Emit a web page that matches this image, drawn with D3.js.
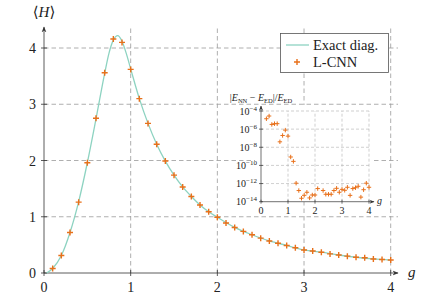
<!DOCTYPE html>
<html>
<head>
<meta charset="utf-8">
<script src="https://cdn.jsdelivr.net/npm/d3@7"></script>
<style>
  body { margin: 0; background: #fff; }
  svg { display: block; }
  text { font-family: "Liberation Serif", "DejaVu Serif", serif; fill: #222; }
</style>
</head>
<body>
<svg id="chart" width="435" height="296"></svg>
<script>
// ---- data ----
const gNN = [0.1, 0.2, 0.3, 0.4, 0.5, 0.6, 0.7, 0.8, 0.9, 1.0,
             1.1, 1.2, 1.3, 1.4, 1.5, 1.6, 1.7, 1.8, 1.9, 2.0,
             2.1, 2.2, 2.3, 2.4, 2.5, 2.6, 2.7, 2.8, 2.9, 3.0,
             3.1, 3.2, 3.3, 3.4, 3.5, 3.6, 3.7, 3.8, 3.9, 4.0];
const hNN = [0.08, 0.31, 0.72, 1.26, 1.96, 2.75, 3.56, 4.16, 4.10, 3.62,
             3.10, 2.66, 2.29, 1.99, 1.74, 1.53, 1.36, 1.21, 1.09, 0.99,
             0.89, 0.81, 0.74, 0.68, 0.62, 0.57, 0.53, 0.49, 0.45, 0.41,
             0.39, 0.37, 0.34, 0.32, 0.30, 0.28, 0.27, 0.25, 0.24, 0.23];

const gExact = [0.03, 0.1, 0.2, 0.3, 0.4, 0.5, 0.6, 0.7, 0.75, 0.8, 0.85, 0.9, 0.95, 1.0,
                1.1, 1.2, 1.3, 1.4, 1.5, 1.6, 1.7, 1.8, 1.9, 2.0,
                2.2, 2.4, 2.6, 2.8, 3.0, 3.2, 3.4, 3.6, 3.8, 4.0];
const hExact = [0.0, 0.08, 0.31, 0.72, 1.27, 1.96, 2.74, 3.55, 3.91, 4.14, 4.22, 4.12, 3.90, 3.63,
                3.10, 2.66, 2.29, 1.99, 1.74, 1.53, 1.36, 1.21, 1.09, 0.99,
                0.81, 0.68, 0.57, 0.49, 0.41, 0.37, 0.32, 0.28, 0.25, 0.23];

const gErr = [0.2, 0.3, 0.4, 0.5, 0.6, 0.7, 0.8, 0.9, 1.0, 1.1,
              1.2, 1.3, 1.4, 1.5, 1.6, 1.7, 1.8, 1.9, 2.0, 2.1,
              2.3, 2.4, 2.5, 2.6, 2.7, 2.8, 2.9, 3.0, 3.1, 3.2,
              3.3, 3.4, 3.5, 3.6, 3.7, 3.8, 3.9, 4.0];
const relErr = [1.4e-5, 2.8e-5, 3.3e-6, 4e-6, 4e-6, 4e-8, 2e-7, 7.8e-7, 1.7e-7, 8.5e-10,
                2.8e-10, 1.1e-12, 1.7e-13, 2.4e-14, 5.1e-14, 1.1e-13, 2.6e-14, 5.5e-14, 5.5e-14, 2.8e-13,
                1.7e-13, 6.6e-14, 6.6e-14, 6.6e-14, 1.7e-13, 3e-13, 1.1e-13, 2.3e-13, 1.8e-13, 3.9e-13,
                5e-14, 2.8e-13, 3.5e-13, 5e-13, 3.2e-14, 2.1e-13, 1.1e-12, 3.9e-13];

const xTicks = [0, 1, 2, 3, 4];
const yTicks = [0, 1, 2, 3, 4];
const insetXTicks = [0, 1, 2, 3, 4];
const insetYExps = [-14, -12, -10, -8, -6, -4];

const legendLabels = ['Exact diag.', 'L-CNN'];

// ---- style ----
const lineColor = '#8dd3c1';
const markColor = '#e8701a';
const gridColor = '#9a9a9a';
const axisColor = '#333';

const svg = d3.select('#chart');

// main scales
const x = d3.scaleLinear().domain([0, 4]).range([44, 390.7]);
const y = d3.scaleLinear().domain([0, 4]).range([273, 48]);
const xEnd = 398, yTop = 27;

// arrow marker
const defs = svg.append('defs');
defs.append('marker')
    .attr('id', 'arrow')
    .attr('viewBox', '0 0 10 10')
    .attr('refX', 9).attr('refY', 5)
    .attr('markerWidth', 6).attr('markerHeight', 6)
    .attr('markerUnits', 'userSpaceOnUse')
    .attr('orient', 'auto')
    .append('path')
    .attr('d', 'M0,1 L10,5 L0,9 L3,5 Z')
    .attr('fill', axisColor);
defs.append('marker')
    .attr('id', 'arrowSmall')
    .attr('viewBox', '0 0 10 10')
    .attr('refX', 9).attr('refY', 5)
    .attr('markerWidth', 5).attr('markerHeight', 5)
    .attr('markerUnits', 'userSpaceOnUse')
    .attr('orient', 'auto')
    .append('path')
    .attr('d', 'M0,1 L10,5 L0,9 L3,5 Z')
    .attr('fill', axisColor);

// grid
const grid = svg.append('g').attr('stroke', gridColor).attr('stroke-width', 0.8)
    .attr('stroke-dasharray', '4.5,3');
grid.selectAll('.hg').data(yTicks.filter(d => d > 0)).enter().append('line')
    .attr('x1', x(0)).attr('x2', xEnd)
    .attr('y1', d => y(d)).attr('y2', d => y(d));
grid.selectAll('.vg').data(xTicks.filter(d => d > 0)).enter().append('line')
    .attr('x1', d => x(d)).attr('x2', d => x(d))
    .attr('y1', y(0)).attr('y2', yTop);

// axes
const ax = svg.append('g').attr('stroke', axisColor).attr('stroke-width', 0.8);
ax.append('line').attr('x1', x(0)).attr('x2', xEnd).attr('y1', y(0)).attr('y2', y(0))
    .attr('marker-end', 'url(#arrow)');
ax.append('line').attr('x1', x(0)).attr('x2', x(0)).attr('y1', y(0)).attr('y2', yTop)
    .attr('marker-end', 'url(#arrow)');
ax.selectAll('.xt').data(xTicks).enter().append('line')
    .attr('x1', d => x(d)).attr('x2', d => x(d))
    .attr('y1', y(0) - 3).attr('y2', y(0) + 3);
ax.selectAll('.yt').data(yTicks).enter().append('line')
    .attr('y1', d => y(d)).attr('y2', d => y(d))
    .attr('x1', x(0) - 3).attr('x2', x(0) + 3);

svg.selectAll('.xl').data(xTicks).enter().append('text')
    .attr('x', d => x(d)).attr('y', y(0) + 19)
    .attr('text-anchor', 'middle').attr('font-size', 14)
    .text(d => d);
svg.selectAll('.yl').data(yTicks).enter().append('text')
    .attr('x', x(0) - 8).attr('y', d => y(d) + 5)
    .attr('text-anchor', 'end').attr('font-size', 14)
    .text(d => d);

svg.append('text').attr('x', xEnd + 10).attr('y', y(0) + 4)
    .attr('font-size', 15).attr('font-style', 'italic').text('g');
const hl = svg.append('text').attr('x', x(0)).attr('y', 17)
    .attr('text-anchor', 'middle').attr('font-size', 15);
hl.append('tspan').text('⟨');
hl.append('tspan').attr('font-style', 'italic').text('H');
hl.append('tspan').text('⟩');

// exact curve
const line = d3.line()
    .x((d, i) => x(gExact[i]))
    .y(d => y(d))
    .curve(d3.curveMonotoneX);
svg.append('path').datum(hExact)
    .attr('d', line)
    .attr('fill', 'none')
    .attr('stroke', lineColor)
    .attr('stroke-width', 1.3);

// L-CNN markers
function plus(sel, s) {
  return sel.attr('d', `M${-s},0H${s}M0,${-s}V${s}`);
}
svg.append('g').selectAll('path').data(hNN).enter().append('path')
    .attr('transform', (d, i) => `translate(${x(gNN[i])},${y(d)})`)
    .call(plus, 3)
    .attr('stroke', markColor).attr('stroke-width', 1.4);

// ---- inset ----
const ix = d3.scaleLinear().domain([0, 4]).range([261, 369]);
const iy = d3.scaleLog().domain([1e-14, 1e-4]).range([201.7, 111]);

svg.append('rect').attr('x', 255).attr('y', 105).attr('width', 118).attr('height', 97)
    .attr('fill', '#fff');

const igrid = svg.append('g').attr('stroke', '#b0b0b0').attr('stroke-width', 0.6)
    .attr('stroke-dasharray', '3,2');
igrid.selectAll('.ih').data(insetYExps.filter(e => e > -14)).enter().append('line')
    .attr('x1', ix(0)).attr('x2', ix(4))
    .attr('y1', e => iy(Math.pow(10, e))).attr('y2', e => iy(Math.pow(10, e)));
igrid.selectAll('.iv').data(insetXTicks.filter(d => d > 0)).enter().append('line')
    .attr('x1', d => ix(d)).attr('x2', d => ix(d))
    .attr('y1', iy(1e-14)).attr('y2', iy(1e-4));

const iax = svg.append('g').attr('stroke', axisColor).attr('stroke-width', 0.7);
iax.append('line').attr('x1', ix(0)).attr('x2', ix(4) + 5).attr('y1', iy(1e-14)).attr('y2', iy(1e-14))
    .attr('marker-end', 'url(#arrowSmall)');
iax.append('line').attr('x1', ix(0)).attr('x2', ix(0)).attr('y1', iy(1e-14)).attr('y2', iy(1e-4) - 5)
    .attr('marker-end', 'url(#arrowSmall)');
iax.selectAll('.ixt').data(insetXTicks).enter().append('line')
    .attr('x1', d => ix(d)).attr('x2', d => ix(d))
    .attr('y1', iy(1e-14) - 2).attr('y2', iy(1e-14) + 2);
iax.selectAll('.iyt').data(insetYExps).enter().append('line')
    .attr('y1', e => iy(Math.pow(10, e))).attr('y2', e => iy(Math.pow(10, e)))
    .attr('x1', ix(0) - 2).attr('x2', ix(0) + 2);

svg.selectAll('.ixl').data(insetXTicks).enter().append('text')
    .attr('x', d => ix(d)).attr('y', iy(1e-14) + 12)
    .attr('text-anchor', 'middle').attr('font-size', 10)
    .text(d => d);
svg.selectAll('.iyl').data(insetYExps).enter().append('text')
    .attr('x', ix(0) - 4).attr('y', e => iy(Math.pow(10, e)) + 3.5)
    .attr('text-anchor', 'end').attr('font-size', 10)
    .each(function(e) {
      const t = d3.select(this);
      t.append('tspan').text('10');
      t.append('tspan').attr('font-size', 7).attr('dy', -4).text('−' + Math.abs(e));
    });
svg.append('text').attr('x', ix(4) + 8).attr('y', iy(1e-14) + 2)
    .attr('font-size', 10).attr('font-style', 'italic').text('g');

// inset y label |E_NN − E_ED|/E_ED
const il = svg.append('text').attr('x', ix(0)).attr('y', 101)
    .attr('text-anchor', 'middle').attr('font-size', 10);
il.append('tspan').text('|');
il.append('tspan').attr('font-style', 'italic').text('E');
il.append('tspan').attr('font-size', 6.5).attr('dy', 2).text('NN');
il.append('tspan').attr('dy', -2).text(' − ');
il.append('tspan').attr('font-style', 'italic').text('E');
il.append('tspan').attr('font-size', 6.5).attr('dy', 2).text('ED');
il.append('tspan').attr('dy', -2).text('|/');
il.append('tspan').attr('font-style', 'italic').text('E');
il.append('tspan').attr('font-size', 6.5).attr('dy', 2).text('ED');

svg.append('g').selectAll('path').data(relErr).enter().append('path')
    .attr('transform', (d, i) => `translate(${ix(gErr[i])},${iy(d)})`)
    .call(plus, 2.2)
    .attr('stroke', markColor).attr('stroke-width', 1);

// ---- legend ----
const lg = svg.append('g');
lg.append('rect').attr('x', 280.5).attr('y', 33.5).attr('width', 108).attr('height', 39)
    .attr('fill', '#fff').attr('stroke', '#555').attr('stroke-width', 0.8);
lg.append('line').attr('x1', 286).attr('x2', 309).attr('y1', 45).attr('y2', 45)
    .attr('stroke', lineColor).attr('stroke-width', 1.3);
lg.append('path').attr('transform', 'translate(297,62)').call(plus, 3)
    .attr('stroke', markColor).attr('stroke-width', 1.4);
lg.selectAll('.lt').data(legendLabels).enter().append('text')
    .attr('x', 313).attr('y', (d, i) => 50 + i * 17)
    .attr('font-size', 14.5)
    .text(d => d);
</script>
</body>
</html>
